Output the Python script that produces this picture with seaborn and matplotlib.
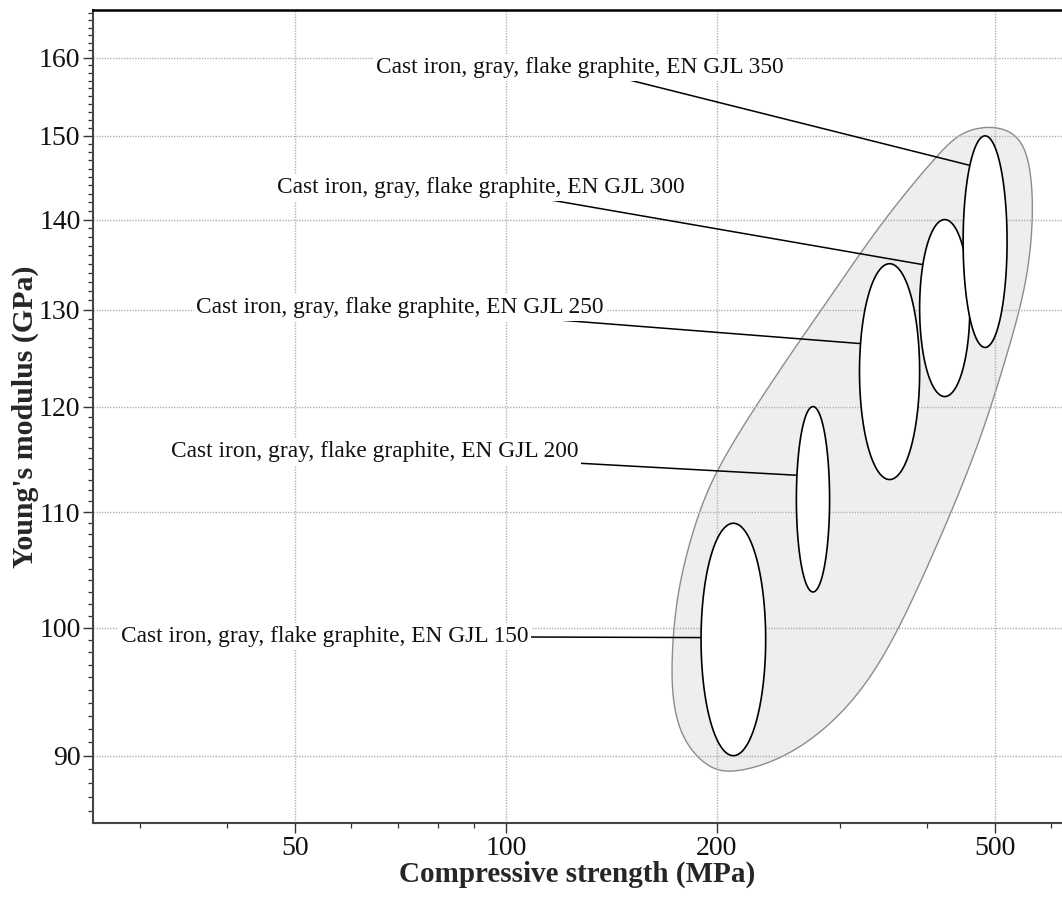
import numpy as np
import pandas as pd
import matplotlib
matplotlib.use("Agg")
import matplotlib.pyplot as plt
from matplotlib.ticker import FixedLocator, NullFormatter, LogLocator, FuncFormatter
import seaborn as sns

# ---------------- data ----------------
grades = ["EN GJL 150", "EN GJL 200", "EN GJL 250", "EN GJL 300", "EN GJL 350"]
strength_low = [190, 260, 320, 390, 450]      # MPa
strength_high = [235, 290, 390, 460, 520]     # MPa
modulus_low = [90, 103, 113, 121, 126]        # GPa
modulus_high = [109, 120, 135, 140, 150]      # GPa
leader_modulus = [99.2, 113.4, 126.4, 134.9, 146.4]  # where leader meets ellipse (GPa)

# family envelope outline (MPa, GPa), clockwise from the top
envelope_strength = [491.9, 525.3, 551.8, 563.0, 566.6, 561.0, 542.9, 516.8, 491.9,
                     463.6, 434.1, 401.0, 365.8, 331.5, 295.4, 259.0, 230.8, 207.8,
                     195.8, 185.7, 177.4, 173.4, 172.2, 173.9, 177.4, 183.3, 191.4,
                     200.4, 216.2, 238.5, 263.3, 290.6, 320.8, 359.8, 407.7, 435.5,
                     460.6]
envelope_modulus = [151.2, 150.7, 148.9, 145.2, 141.1, 135.4, 130.0, 124.7, 119.7,
                    114.8, 110.2, 105.3, 100.1, 95.8, 92.6, 90.3, 89.2, 88.7,
                    89.1, 90.1, 91.7, 93.9, 96.6, 100.7, 104.0, 107.5, 111.1,
                    113.9, 117.7, 122.2, 126.8, 131.3, 136.2, 141.7, 147.0, 149.7,
                    150.8]

x_ticks = [50, 100, 200, 500]
y_ticks = [90, 100, 110, 120, 130, 140, 150, 160]

# ---------------- layout ----------------
label_centers = [(55.0, 99.3), (64.9, 115.6), (70.6, 130.2), (92.2, 143.7), (127.3, 158.7)]

sns.set_theme(style="white")
plt.rcParams["font.family"] = ["Liberation Serif", "DejaVu Serif"]

fig = plt.figure(figsize=(10.62, 8.97), dpi=100)
ax = fig.add_axes([93 / 1062, 74 / 897, 969 / 1062, 813 / 897])
ax.set_xscale("log")
ax.set_yscale("log")
ax.set_xlim(25.7, 623)
ax.set_ylim(85.14, 166.4)


def smooth_closed(xs, ys, n=30, sigma=18):
    """Catmull-Rom through the outline (log space) followed by a circular Gaussian blur."""
    P = np.column_stack([np.log10(xs), np.log10(ys)])
    m = len(P)
    out = []
    for i in range(m):
        p0, p1, p2, p3 = P[i - 1], P[i], P[(i + 1) % m], P[(i + 2) % m]
        for tt in np.linspace(0, 1, n, endpoint=False):
            t2, t3 = tt * tt, tt * tt * tt
            pt = 0.5 * ((2 * p1) + (-p0 + p2) * tt + (2 * p0 - 5 * p1 + 4 * p2 - p3) * t2
                        + (-p0 + 3 * p1 - 3 * p2 + p3) * t3)
            out.append(pt)
    out = np.array(out)
    k = np.arange(-3 * sigma, 3 * sigma + 1)
    w = np.exp(-0.5 * (k / sigma) ** 2)
    w /= w.sum()
    N = len(out)
    sm = np.zeros_like(out)
    for j, wj in zip(k, w):
        sm += wj * np.roll(out, j, axis=0)
    return 10 ** sm[:, 0], 10 ** sm[:, 1]


# envelope
ex, ey = smooth_closed(envelope_strength, envelope_modulus)
ax.fill(ex, ey, facecolor="#eeeeee", edgecolor="#8c8c8c", linewidth=1.0, zorder=0.2)

# grid
ax.set_axisbelow(True)
ax.grid(True, which="major", color="#b0b0b0", linestyle=(0, (1, 1)), linewidth=1.0)

# ellipses + leaders
t = np.linspace(np.pi / 2, np.pi / 2 + 2 * np.pi, 400, endpoint=False)
leader_rows = []
for i in range(len(grades)):
    lx0, lx1 = np.log10(strength_low[i]), np.log10(strength_high[i])
    ly0, ly1 = np.log10(modulus_low[i]), np.log10(modulus_high[i])
    cx, cy = (lx0 + lx1) / 2, (ly0 + ly1) / 2
    ax_, ay_ = (lx1 - lx0) / 2, (ly1 - ly0) / 2
    xs = 10 ** (cx + ax_ * np.cos(t))
    ys = 10 ** (cy + ay_ * np.sin(t))
    ax.fill(xs, ys, facecolor="white", edgecolor="black", linewidth=1.2, zorder=2)

    s = (np.log10(leader_modulus[i]) - cy) / ay_
    ax_pt = 10 ** (cx - ax_ * np.sqrt(max(0.0, 1 - s * s)))
    tx, ty = label_centers[i]
    leader_rows.append({"grade": grades[i], "x": ax_pt, "y": leader_modulus[i], "order": 0})
    leader_rows.append({"grade": grades[i], "x": tx, "y": ty, "order": 1})
    ax.text(tx, ty, "Cast iron, gray, flake graphite, " + grades[i], ha="center", va="center",
            fontsize=16.8, color="#111111", zorder=3,
            bbox=dict(boxstyle="square,pad=0.12", facecolor="white", edgecolor="none"))

leaders = pd.DataFrame(leader_rows)
sns.lineplot(data=leaders, x="x", y="y", units="grade", estimator=None, sort=False,
             color="black", lw=1.1, ax=ax, zorder=1.5, legend=False)

# ticks
ax.xaxis.set_major_locator(FixedLocator(x_ticks))
ax.xaxis.set_major_formatter(FuncFormatter(lambda v, p: f"{v:g}"))
ax.xaxis.set_minor_locator(LogLocator(base=10, subs=range(2, 10), numticks=50))
ax.xaxis.set_minor_formatter(NullFormatter())
ax.yaxis.set_major_locator(FixedLocator(y_ticks))
ax.yaxis.set_major_formatter(FuncFormatter(lambda v, p: f"{v:g}"))
ax.yaxis.set_minor_locator(FixedLocator(list(range(86, 167))))
ax.yaxis.set_minor_formatter(NullFormatter())

ax.tick_params(axis="both", which="major", direction="out", length=7, width=1.0,
               color="#333333", labelsize=20, labelcolor="#111111", pad=2,
               bottom=True, left=True)
ax.tick_params(axis="both", which="minor", direction="out", length=3.5, width=0.9,
               color="#333333", bottom=True, left=True)

for side in ["left", "bottom"]:
    ax.spines[side].set_color("#444444")
    ax.spines[side].set_linewidth(1.5)
ax.spines["top"].set_color("black")
ax.spines["top"].set_linewidth(1.8)
ax.spines["right"].set_visible(False)

ax.set_xlabel("Compressive strength (MPa)", fontsize=21, fontweight="bold", labelpad=0)
ax.set_ylabel("Young's modulus (GPa)", fontsize=21.5, fontweight="bold", labelpad=0)

fig.savefig("out.png", dpi=100)
